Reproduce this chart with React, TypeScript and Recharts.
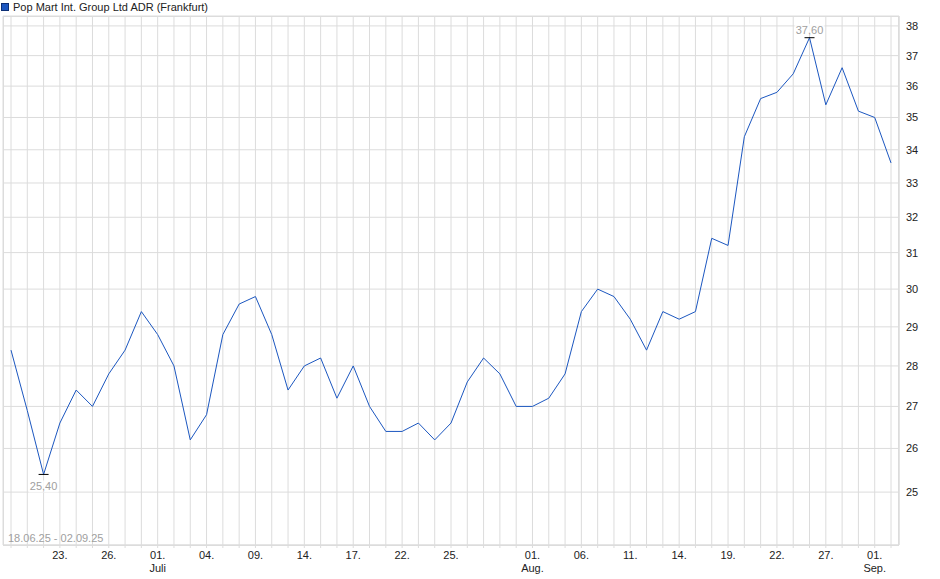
import { LineChart, Line, XAxis, YAxis, CartesianGrid, ReferenceDot } from "recharts";

// trading days 18.06.25 - 02.09.25
const dates = [
  "18.06.", "19.06.", "20.06.", "23.06.", "24.06.", "25.06.", "26.06.", "27.06.", "30.06.",
  "01.07.", "02.07.", "03.07.", "04.07.", "07.07.", "08.07.", "09.07.", "10.07.", "11.07.",
  "14.07.", "15.07.", "16.07.", "17.07.", "18.07.", "21.07.", "22.07.", "23.07.", "24.07.",
  "25.07.", "28.07.", "29.07.", "30.07.", "31.07.",
  "01.08.", "04.08.", "05.08.", "06.08.", "07.08.", "08.08.", "11.08.", "12.08.", "13.08.",
  "14.08.", "15.08.", "18.08.", "19.08.", "20.08.", "21.08.", "22.08.", "25.08.", "26.08.",
  "27.08.", "28.08.", "29.08.",
  "01.09.", "02.09.",
];

const prices = [
  28.4, 26.9, 25.4, 26.6, 27.4, 27.0, 27.8, 28.4, 29.4,
  28.8, 28.0, 26.2, 26.8, 28.8, 29.6, 29.8, 28.8, 27.4,
  28.0, 28.2, 27.2, 28.0, 27.0, 26.4, 26.4, 26.6, 26.2,
  26.6, 27.6, 28.2, 27.8, 27.0,
  27.0, 27.2, 27.8, 29.4, 30.0, 29.8, 29.2, 28.4, 29.4,
  29.2, 29.4, 31.4, 31.2, 34.4, 35.6, 35.8, 36.4, 37.6,
  35.4, 36.6, 35.2,
  35.0, 33.6,
];

const tickDates = [
  "23.06.", "26.06.", "01.07.", "04.07.", "09.07.", "14.07.", "17.07.", "22.07.", "25.07.",
  "01.08.", "06.08.", "11.08.", "14.08.", "19.08.", "22.08.", "27.08.", "01.09.",
];
const monthLabels: Record<string, string> = { "01.07.": "Juli", "01.08.": "Aug.", "01.09.": "Sep." };

const yTicks = [25, 26, 27, 28, 29, 30, 31, 32, 33, 34, 35, 36, 37, 38];

const seriesName = "Pop Mart Int. Group Ltd ADR (Frankfurt)";
const rangeLabel = "18.06.25 - 02.09.25";

const data = dates.map((d, i) => ({ date: d, price: prices[i] }));

const maxVal = Math.max(...prices);
const minVal = Math.min(...prices);
const maxDate = dates[prices.indexOf(maxVal)];
const minDate = dates[prices.indexOf(minVal)];

const font = "'Liberation Sans', Arial, sans-serif";
const gridColor = "#dcdcdc";
const lineColor = "#1c57c0";

const fmt = (v: number) => v.toFixed(2).replace(".", ",");

const DateTick = (props: any) => {
  const { x, y, payload } = props;
  const v = payload.value as string;
  if (!tickDates.includes(v)) return null;
  return (
    <g>
      <text x={x} y={y + 9} textAnchor="middle" fontSize={11} fill="#222" fontFamily={font}>
        {v.slice(0, 3)}
      </text>
      {monthLabels[v] && (
        <text x={x} y={y + 22} textAnchor="middle" fontSize={11} fill="#222" fontFamily={font}>
          {monthLabels[v]}
        </text>
      )}
    </g>
  );
};

const extremeMark = (value: number, above: boolean) => (props: any) => {
  const { cx, cy } = props;
  const label = fmt(value);
  const ly = above ? cy - 8 : cy + 12;
  return (
    <g>
      <rect x={cx - 15} y={ly - 6} width={30} height={12} fill="#fff" fillOpacity={0.85} />
      <text x={cx} y={ly + 4} textAnchor="middle" fontSize={11} fill="#a0a0a0" fontFamily={font}>
        {label}
      </text>
      <line x1={cx - 5} x2={cx + 5} y1={cy} y2={cy} stroke="#000" strokeWidth={1} />
    </g>
  );
};

export default function App() {
  return (
    <div style={{ position: "absolute", left: 0, top: 0, width: 940, height: 579, background: "#fff", fontFamily: font }}>
      <div style={{ position: "absolute", left: 1, top: 1, display: "flex", alignItems: "center", fontSize: 11, color: "#222", whiteSpace: "nowrap" }}>
        <span style={{ display: "inline-block", width: 6, height: 6, background: "#1c57c0", border: "1px solid #0d2f75", marginRight: 4 }} />
        {seriesName}
      </div>
      <LineChart width={940} height={579} data={data} margin={{ top: 16, right: 0, bottom: 0, left: 3 }}>
        <CartesianGrid stroke={gridColor} />
        <XAxis
          dataKey="date"
          interval={0}
          height={34}
          padding={{ left: 8, right: 8 }}
          tickSize={3}
          tickLine={{ stroke: gridColor }}
          axisLine={{ stroke: gridColor }}
          tick={<DateTick />}
        />
        <YAxis
          orientation="right"
          scale="log"
          domain={[23.84, 38.34]}
          ticks={yTicks}
          allowDataOverflow
          width={41}
          tickLine={false}
          tickSize={4}
          tickMargin={3}
          axisLine={{ stroke: gridColor }}
          tick={{ fontSize: 11, fill: "#222", fontFamily: font }}
        />
        <Line type="linear" dataKey="price" stroke={lineColor} strokeWidth={1} dot={false} isAnimationActive={false} />
        <ReferenceDot x={maxDate} y={maxVal} ifOverflow="visible" shape={extremeMark(maxVal, true)} />
        <ReferenceDot x={minDate} y={minVal} ifOverflow="visible" shape={extremeMark(minVal, false)} />
      </LineChart>
      <div style={{ position: "absolute", left: 3, top: 16, width: 896, height: 530, border: `1px solid ${gridColor}`, boxSizing: "border-box", pointerEvents: "none" }} />
      <div style={{ position: "absolute", left: 8, top: 532, fontSize: 11, color: "#a0a0a0", whiteSpace: "nowrap" }}>
        {rangeLabel}
      </div>
    </div>
  );
}
